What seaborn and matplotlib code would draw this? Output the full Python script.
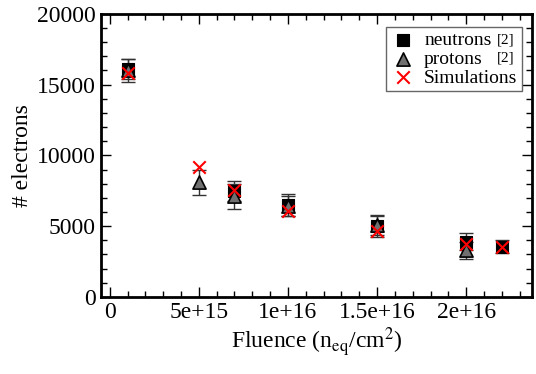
import numpy as np
import pandas as pd
import seaborn as sns
import matplotlib.pyplot as plt
from matplotlib.ticker import MultipleLocator

# data
neutron_x = [1e15, 7e15, 1e16, 1.5e16, 2e16, 2.2e16]
neutron_y = [16100, 7500, 6500, 5000, 3900, 3550]
neutron_err = [700, 700, 750, 750, 600, 450]

proton_x = [1e15, 5e15, 7e15, 1e16, 1.5e16, 2e16]
proton_y = [16000, 8100, 7100, 6400, 5100, 3300]
proton_err = [800, 900, 900, 700, 700, 600]

sim_x = [1e15, 5e15, 7e15, 1e16, 1.5e16, 2e16, 2.2e16]
sim_y = [15850, 9200, 7550, 6050, 4650, 3750, 3500]

sns.set_style("ticks", {'axes.edgecolor': 'black', 'xtick.color': 'black',
                        'ytick.color': 'black', 'text.color': 'black',
                        'axes.labelcolor': 'black'})
plt.rcParams['font.family'] = ['Liberation Serif', 'DejaVu Serif']
plt.rcParams['mathtext.fontset'] = 'stix'

fig = plt.figure(figsize=(5.36, 3.74), dpi=100)
ax = fig.add_axes([0.188, 0.206, 0.805, 0.757])

df_n = pd.DataFrame({'x': neutron_x, 'y': neutron_y})
df_p = pd.DataFrame({'x': proton_x, 'y': proton_y})
df_s = pd.DataFrame({'x': sim_x, 'y': sim_y})

ax.errorbar(neutron_x, neutron_y, yerr=neutron_err, fmt='none', ecolor='#333333',
            elinewidth=1, capsize=5, capthick=1, zorder=2)
ax.errorbar(proton_x, proton_y, yerr=proton_err, fmt='none', ecolor='#333333',
            elinewidth=1, capsize=5, capthick=1, zorder=2)

sns.scatterplot(data=df_n, x='x', y='y', marker='s', s=75, color='black',
                edgecolor='black', linewidth=0.8, ax=ax, zorder=3, label='neutrons')
sns.scatterplot(data=df_p, x='x', y='y', marker='^', s=90, color='#707070',
                edgecolor='black', linewidth=1.2, ax=ax, zorder=4, label='protons')
sns.scatterplot(data=df_s, x='x', y='y', marker='x', s=80, color='red',
                linewidth=1.5, ax=ax, zorder=5, label='Simulations')

ax.set_xlim(-5e14, 2.37e16)
ax.set_ylim(0, 20000)
ax.xaxis.set_major_locator(MultipleLocator(5e15))
ax.xaxis.set_minor_locator(MultipleLocator(1e15))
ax.yaxis.set_major_locator(MultipleLocator(5000))
ax.yaxis.set_minor_locator(MultipleLocator(1000))
ax.set_xticks([0, 5e15, 1e16, 1.5e16, 2e16])
ax.set_xticklabels(['0', '5e+15', '1e+16', '1.5e+16', '2e+16'])

ax.tick_params(which='both', direction='in', top=True, right=True, labelsize=17,
               width=1, colors='black')
ax.tick_params(which='major', length=7)
ax.tick_params(which='minor', length=4)
for sp in ax.spines.values():
    sp.set_linewidth(2)
    sp.set_color('black')
    sp.set_visible(True)

ax.set_xlabel(r'Fluence (n$_{\mathrm{eq}}$/cm$^{2}$)', fontsize=17, labelpad=2)
ax.set_ylabel('# electrons', fontsize=17, labelpad=3)

leg = ax.legend(loc='upper right', bbox_to_anchor=(0.977, 0.954), fontsize=14,
                frameon=True, fancybox=False, edgecolor='#666666', handletextpad=0.5,
                borderpad=0.25, labelspacing=0.05, handlelength=1.2, borderaxespad=0)
leg.get_frame().set_linewidth(1)
leg.get_frame().set_alpha(1)

# small reference tags after the legend labels
ax.text(0.919, 0.906, '[2]', transform=ax.transAxes, fontsize=11, va='center',
        ha='left', zorder=10, color='black')
ax.text(0.919, 0.843, '[2]', transform=ax.transAxes, fontsize=11, va='center',
        ha='left', zorder=10, color='black')

fig.savefig('out.png', dpi=100)
